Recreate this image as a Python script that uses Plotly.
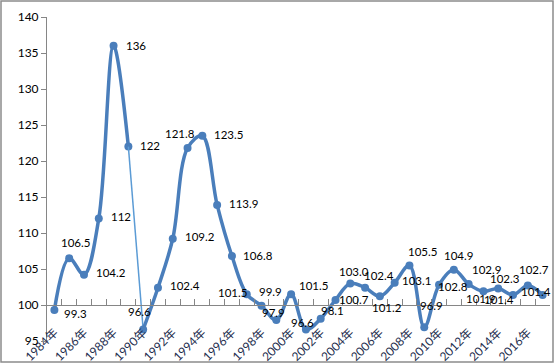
import plotly.graph_objects as go

years = list(range(1984, 2018))
categories = [f"{y}年" for y in years]
values = [99.3, 106.5, 104.2, 112, 136, 122, 96.6, 102.4, 109.2, 121.8,
          123.5, 113.9, 106.8, 101.5, 99.9, 97.9, 101.5, 96.6, 98.1, 100.7,
          103.0, 102.4, 101.2, 103.1, 105.5, 96.9, 102.8, 104.9, 102.9, 101.9,
          102.3, 101.4, 102.7, 101.4]
value_text = ["99.3", "106.5", "104.2", "112", "136", "122", "96.6", "102.4", "109.2", "121.8",
              "123.5", "113.9", "106.8", "101.5", "99.9", "97.9", "101.5", "96.6", "98.1", "100.7",
              "103.0", "102.4", "101.2", "103.1", "105.5", "96.9", "102.8", "104.9", "102.9", "101.9",
              "102.3", "101.4", "102.7", "101.4"]
tick_text = [c if i % 2 == 0 else "" for i, c in enumerate(categories)]

# label offsets (px): dx right, dy up
label_dx = [21, 6, 27, 22, 22, 22, -4, 27, 27, -8, 26, 26, 26, -14, 9, -3, 22, -3, 12, 19,
            4, 14, 7, 22, 13, 7, 14, 5, 18, -3, 7, -14, 6, -7]
label_dy = [-3, 16, 2, 2, 0, 1, 18, 2, 2, 15, 1, 1, 1, 2, 14, 8, 9, 7, 8, 0,
            12, 12, -11, 2, 14, 22, -2, 14, 15, -7, 10, -5, 16, 3]

W, H = 556, 364
L, R, T, B = 47, 6, 17, 23
YMIN, YMAX, CROSS = 95, 140, 100
BLUE = "#4A7EBB"
FONT = "Lato, 'Noto Sans CJK SC', sans-serif"

fig = go.Figure()
# thick smooth segment before the drop
fig.add_trace(go.Scatter(x=categories[:6], y=values[:6], mode="lines+markers",
                         line=dict(color=BLUE, width=3.5, shape="spline", smoothing=1),
                         marker=dict(color=BLUE, size=8), hoverinfo="skip"))
# thin segment of the drop
fig.add_trace(go.Scatter(x=categories[5:7], y=values[5:7], mode="lines",
                         line=dict(color="#5B9BD5", width=1.5), hoverinfo="skip"))
fig.add_trace(go.Scatter(x=categories[6:], y=values[6:], mode="lines+markers",
                         line=dict(color=BLUE, width=3.5, shape="spline", smoothing=1),
                         marker=dict(color=BLUE, size=8), hoverinfo="skip"))

for c, v, t, dx, dy in zip(categories, values, value_text, label_dx, label_dy):
    fig.add_annotation(x=c, y=v, text=t, showarrow=False, xshift=dx, yshift=dy,
                       font=dict(family=FONT, size=11.5, color="#000000"))

pw = W - L - R
ph = H - T - B
fig.add_shape(type="rect", xref="paper", yref="paper",
              x0=(1 - L) / pw, x1=(W - 3 - L) / pw,
              y0=-(H - 2 - T - ph) / ph, y1=1 + (T - 1) / ph,
              line=dict(color="#8C8C8C", width=1.5), fillcolor="rgba(0,0,0,0)", layer="below")

fig.update_layout(
    width=W, height=H, showlegend=False,
    margin=dict(l=L, r=R, t=T, b=B, autoexpand=False),
    paper_bgcolor="white", plot_bgcolor="white",
    xaxis=dict(type="category", categoryorder="array", categoryarray=categories,
               tickmode="array", tickvals=categories, ticktext=tick_text,
               tickson="boundaries", ticks="inside", ticklen=6, tickcolor="#868686",
               showline=True, linecolor="#868686", linewidth=1, showgrid=False,
               anchor="free", position=(CROSS - YMIN) / (YMAX - YMIN),
               tickangle=-45, ticklabelstandoff=15, automargin=False,
               tickfont=dict(family=FONT, size=12, color="#1F2F4F"),
               range=[-0.5, len(categories) - 0.5], zeroline=False),
    yaxis=dict(range=[YMIN, YMAX], dtick=5, tick0=95, ticks="outside", ticklen=5,
               tickcolor="#868686", showline=True, linecolor="#868686", linewidth=1,
               showgrid=False, zeroline=False, automargin=False,
               tickfont=dict(family=FONT, size=12, color="#000000")),
)

fig.write_html("out.html", config={"displayModeBar": False},
               post_script="document.body.style.margin='0';document.body.style.overflow='hidden';")
